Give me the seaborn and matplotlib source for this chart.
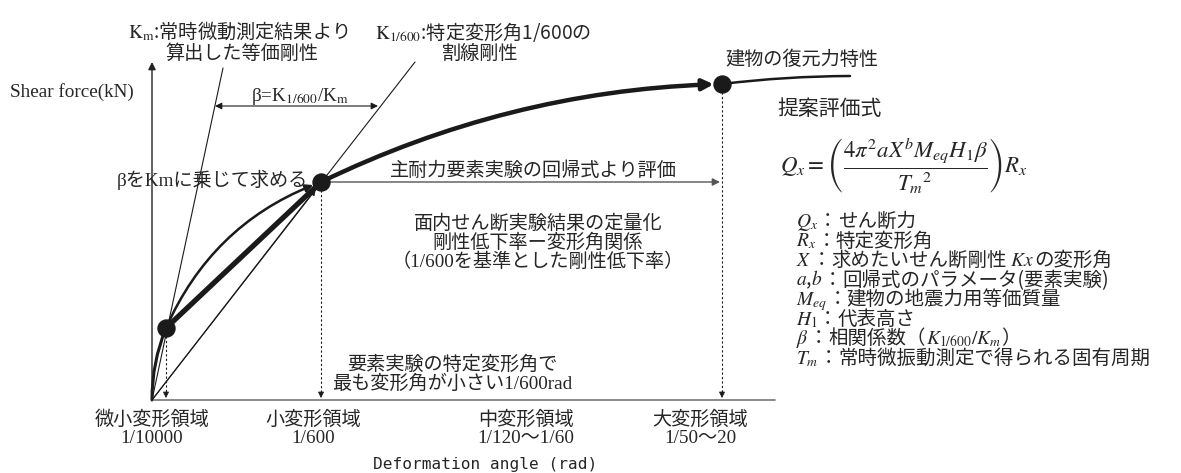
import re
import matplotlib
matplotlib.use("Agg")
import matplotlib.pyplot as plt
from matplotlib.patches import FancyArrowPatch
import seaborn as sns

sns.set_theme(style="white")
plt.rcParams["font.family"] = ["Liberation Serif", "Noto Sans CJK JP"]
plt.rcParams["mathtext.fontset"] = "stix"

JP = ["Noto Sans CJK JP", "Liberation Serif"]
MIX = ["Liberation Serif", "Noto Sans CJK JP"]

# ---- key points of the restoring-force sketch (canvas pixels, y grows downward)
origin = (152, 400)
pt_micro = (166, 328)      # micro deformation, 1/10000
pt_small = (321, 182)      # small deformation, 1/600
pt_large = (722, 84)       # large deformation
curve_end = (850, 76)
km_top = (223, 68)         # end of the K_m stiffness line
k600_top = (415, 62)       # end of the K_1/600 secant line
yaxis_top = 62
xaxis_right = 775
beta_span = (215, 378)
beta_y = 106

# ---- deformation regions under the horizontal axis
region_names = ["微小変形領域", "小変形領域", "中変形領域", "大変形領域"]
region_angles = ["1/10000", "1/600", "1/120～1/60", "1/50～20"]
region_x = [152, 313, 526, 700]

# ---- symbols of the proposed formula and their meaning
legend_symbols = [r"$Q_x$", r"$R_x$", r"$X$", r"$a$,$b$", r"$M_{eq}$", r"$H_1$",
                  r"$\beta$", r"$T_m$"]
legend_desc = [
    "せん断力",
    "特定変形角",
    r"求めたいせん断剛性$\ Kx\ $の変形角",
    "回帰式のパラメータ(要素実験)",
    "建物の地震力用等価質量",
    "代表高さ",
    r"相関係数（$K_{1/600}/K_m$）",
    "常時微振動測定で得られる固有周期",
]
legend_x, legend_y0, legend_dy = 796, 227, 19.57

W, H = 1181, 473
fig = plt.figure(figsize=(W / 100, H / 100), dpi=100)
ax = fig.add_axes([0, 0, 1, 1])

# axes of the diagram
sns.lineplot(x=[origin[0], xaxis_right], y=[origin[1], origin[1]], color="#777777",
             linewidth=1.2, sort=False, estimator=None, ax=ax)
ax.annotate("", xy=(origin[0], yaxis_top), xytext=origin,
            arrowprops=dict(arrowstyle="-|>", color="#222222", lw=1.0,
                            mutation_scale=11, shrinkA=0, shrinkB=0))

# stiffness lines
sns.lineplot(x=[origin[0], km_top[0]], y=[origin[1], km_top[1]], color="k",
             linewidth=0.8, sort=False, estimator=None, ax=ax)
sns.lineplot(x=[origin[0], k600_top[0]], y=[origin[1], k600_top[1]], color="k",
             linewidth=0.8, sort=False, estimator=None, ax=ax)
ax.add_patch(FancyArrowPatch(origin, pt_small, arrowstyle="-|>", mutation_scale=10,
                             lw=0.8, color="k", shrinkA=0, shrinkB=6, zorder=3))

# restoring force curve
ax.add_patch(FancyArrowPatch(origin, pt_micro, connectionstyle="arc3,rad=-0.1",
                             arrowstyle="-", lw=2.2, color="k", shrinkA=0, shrinkB=0))
ax.add_patch(FancyArrowPatch(pt_micro, pt_small, connectionstyle="arc3,rad=-0.21",
                             arrowstyle="-|>", mutation_scale=11, lw=1.8, color="k",
                             shrinkA=0, shrinkB=6, zorder=3))
sns.lineplot(x=[pt_micro[0], pt_small[0]], y=[pt_micro[1], pt_small[1]], color="k",
             linewidth=3.8, sort=False, estimator=None, ax=ax)
ax.add_patch(FancyArrowPatch(pt_small, pt_large, connectionstyle="arc3,rad=-0.107",
                             arrowstyle="-|>", mutation_scale=16, lw=3.2, color="k",
                             shrinkA=0, shrinkB=6, zorder=3))
ax.add_patch(FancyArrowPatch(pt_large, curve_end, connectionstyle="arc3,rad=-0.03",
                             arrowstyle="-", lw=1.8, color="k", shrinkA=0, shrinkB=0))

# dotted drop lines to the deformation axis
for px, py in [pt_micro, pt_small, pt_large]:
    sns.lineplot(x=[px, px], y=[py + 8, origin[1] - 6], color="k", linewidth=0.8,
                 linestyle=(0, (2, 2)), sort=False, estimator=None, ax=ax)
    ax.annotate("", xy=(px, origin[1] - 2), xytext=(px, origin[1] - 8),
                arrowprops=dict(arrowstyle="-|>", color="k", lw=0.6,
                                mutation_scale=9, shrinkA=0, shrinkB=0))

# evaluation arrow from 1/600 to large deformation
ax.annotate("", xy=(pt_large[0] - 2, pt_small[1]), xytext=pt_small,
            arrowprops=dict(arrowstyle="-|>", color="#555555", lw=1.0,
                            mutation_scale=11, shrinkA=0, shrinkB=0))
# beta ratio arrow
ax.annotate("", xy=(beta_span[1], beta_y), xytext=(beta_span[0], beta_y),
            arrowprops=dict(arrowstyle="<|-|>", color="k", lw=0.8,
                            mutation_scale=10, shrinkA=0, shrinkB=0))

# characteristic points
sns.scatterplot(x=[pt_micro[0], pt_small[0], pt_large[0]],
                y=[pt_micro[1], pt_small[1], pt_large[1]],
                s=150, color="k", edgecolor="k", zorder=5, legend=False, ax=ax)

fs = 13.8
# annotations
ax.text(128, 32, r"$\mathrm{K_m}$:常時微動測定結果より", family=JP, fontsize=fs,
        ha="left", va="center")
ax.text(242, 53, "算出した等価剛性", family=JP, fontsize=fs, ha="center", va="center")
ax.text(375, 32, r"$\mathrm{K_{1/600}}$:特定変形角1/600の", family=JP, fontsize=fs,
        ha="left", va="center")
ax.text(480, 53, "割線剛性", family=JP, fontsize=fs, ha="center", va="center")
ax.text(10, 92, "Shear force(kN)", family=MIX, fontsize=fs, ha="left", va="center")
ax.text(300, 101, r"β=K$_{1/600}$/K$_{\mathrm{m}}$", family=MIX, fontsize=fs,
        ha="center", va="baseline")
ax.text(308, 180, "βをKmに乗じて求める", family=MIX, fontsize=fs, ha="right",
        va="center")
ax.text(533, 171, "主耐力要素実験の回帰式より評価", family=MIX, fontsize=fs,
        ha="center", va="center")
ax.text(725, 60, "建物の復元力特性", family=MIX, fontsize=fs, ha="left", va="center")

ax.text(538, 243, "面内せん断実験結果の定量化\n剛性低下率ー変形角関係\n"
        "（1/600を基準とした剛性低下率）", family=MIX, fontsize=fs, ha="center",
        va="center", multialignment="center", linespacing=1.05)
ax.text(452, 374, "要素実験の特定変形角で\n最も変形角が小さい1/600rad", family=MIX,
        fontsize=fs, ha="center", va="center", multialignment="center",
        linespacing=1.05)

for name, ang, x in zip(region_names, region_angles, region_x):
    ax.text(x, 429, f"{name}\n{ang}", family=MIX, fontsize=fs, ha="center",
            va="center", multialignment="center", linespacing=1.1)
ax.text(485, 464, "Deformation angle (rad)", family="DejaVu Sans Mono",
        fontsize=11.6, ha="center", va="center")

# proposed formula
ax.text(777, 110, "提案評価式", family=MIX, fontsize=15, ha="left", va="center")
ax.text(780, 166,
        r"$Q_x=\left(\dfrac{4\pi^2 aX^b M_{eq} H_1 \beta}{{T_m}^{2}}\right)R_x$",
        fontsize=16.5, ha="left", va="center")

# symbol list: each row is a chain of text pieces sharing one baseline
lfs = 14.0
for i, (sym, desc) in enumerate(zip(legend_symbols, legend_desc)):
    y = legend_y0 + legend_dy * i
    prev = ax.text(legend_x, y, sym, family=JP, fontsize=lfs, ha="left",
                   va="baseline")
    pieces = ["："] + [p for p in re.split(r"(\$[^$]*\$)", desc) if p]
    for piece in pieces:
        prev = ax.annotate(piece, xy=(1, y), xycoords=(prev, "data"), family=JP,
                           fontsize=lfs, ha="left", va="baseline",
                           annotation_clip=False)

ax.set_xlim(0, W)
ax.set_ylim(H, 0)
ax.axis("off")
fig.savefig("out.png", dpi=100, facecolor="white")
